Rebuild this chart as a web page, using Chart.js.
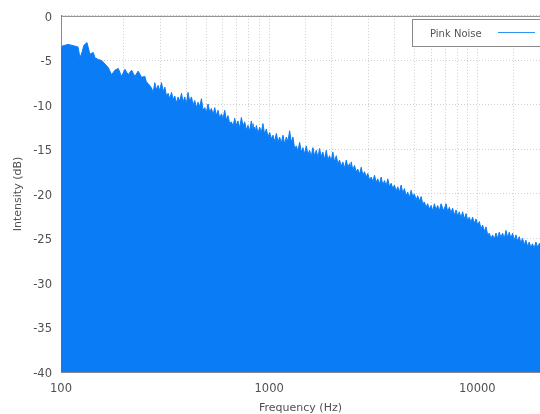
<!DOCTYPE html>
<html>
<head>
<meta charset="utf-8">
<script src="https://cdn.jsdelivr.net/npm/chart.js@4/dist/chart.umd.min.js"></script>
<style>
html,body{margin:0;padding:0;background:#fff;overflow:hidden;}
#wrap{position:relative;width:540px;height:414px;}
</style>
</head>
<body>
<div id="wrap"><canvas id="c" width="540" height="414"></canvas></div>
<script>
const seriesName = "Pink Noise";
const xTitle = "Frequency (Hz)";
const yTitle = "Intensity (dB)";
const xLabelTicks = [100, 1000, 10000];
const yMin = -40, yMax = 0, yStep = 5;
const xMin = 100, xMax = 20000;

const frequencies = [
 100, 101, 104.5, 108, 112.5, 116.7, 120.7, 123.4, 126.1, 128.9, 133.3, 137.7, 142.9, 145.6, 151, 156.7,
 162.6, 168.6, 175, 181.5, 188.3, 195.5, 202.7, 210.2, 218.3, 226.4, 234.8, 243.8, 252.8, 257, 262.2,
 272.2, 277, 282.3, 287, 292.7, 298, 303.9, 310, 315.4, 321, 327, 333, 339.6, 346, 352.1, 358,
 365.2, 372, 379.2, 386, 393.2, 400, 407.8, 415, 423.4, 431, 439.1, 447, 455.4, 464, 472.9, 481,
 490.4, 499, 508.6, 518, 528.1, 538, 547.7, 558, 568, 579, 589.7, 600, 611.6, 623, 634.3, 646,
 658.5, 671, 683, 695, 708.3, 722, 735.4, 749, 762.7, 777, 791, 806, 821.2, 828, 835.9, 844,
 851.7, 860, 867.9, 884, 900.1, 917, 933.5, 951, 969.6, 987, 1005.5, 1024, 1042.8, 1062, 1082.8, 1103,
 1122.9, 1144, 1164.6, 1187, 1209.2, 1231, 1254.1, 1277, 1300.6, 1325, 1350.3, 1375, 1400.4, 1426,
 1452.3, 1480, 1507.8, 1535, 1563.7, 1592, 1621.7, 1652, 1683.6, 1715, 1746.1, 1778, 1810.8, 1845,
 1880, 1915, 1949.7, 1986, 2023, 2061, 2100.4, 2139, 2178.3, 2218, 2259, 2302, 2345.4, 2389,
 2432.4, 2455, 2478.5, 2524, 2570.4, 2618, 2665.6, 2716, 2767.8, 2819, 2870.6, 2923, 2977, 3033,
 3091, 3148, 3206.3, 3265, 3325, 3388, 3452.4, 3516, 3580.6, 3646, 3713.3, 3783, 3855.5, 3926,
 3998.4, 4072, 4146.6, 4225, 4305.5, 4384, 4465.2, 4547, 4630.7, 4718, 4808, 4896, 4986.2, 5078,
 5171, 5269, 5369.2, 5467, 5568.2, 5671, 5774.6, 5884, 5995.7, 6106, 6218, 6332, 6448.5, 6570,
 6695.3, 6883, 7075.3, 7205, 7337.7, 7473, 7609.8, 7754, 7901.1, 8046, 8193.8, 8344, 8497.7, 8658,
 8822.1, 8984, 9149.1, 9317, 9488.3, 9671, 9857.5, 10038, 10223, 10411, 10603, 10803, 11008, 11210,
 11416, 11626, 11839, 12063, 12292, 12518, 12748, 12983, 13221, 13471, 13726, 13978, 14235, 14497,
 14763, 15043, 15328, 15610, 15896, 16189, 16486, 16797, 17116, 17431, 17751, 18077, 18409, 18758,
 19113, 19465, 19823, 20000
];
const intensities = [
 -3.7, -3.4, -3.3, -3.2, -3.3, -3.4, -3.5, -4.7, -4.1, -3.3, -3.0, -4.3, -4.1, -4.7, -4.9, -5.0,
 -5.4, -5.8, -6.6, -6.1, -5.9, -6.8, -6.0, -6.6, -6.1, -6.8, -6.2, -6.9, -6.8, -7.4, -7.6,
 -8.1, -8.6, -7.5, -8.3, -7.8, -8.4, -7.5, -8.5, -8.0, -9.0, -8.7, -9.3, -8.6, -9.4, -9.0, -9.8,
 -9.1, -9.6, -8.7, -9.7, -9.1, -9.9, -8.6, -9.6, -9.1, -10.0, -9.5, -10.3, -9.7, -10.2, -9.3, -10.6,
 -10.3, -10.9, -9.9, -10.8, -10.4, -11.1, -10.3, -11.2, -10.6, -11.5, -11.0, -11.6, -10.6, -11.7, -11.2, -12.1,
 -11.9, -12.4, -11.5, -12.3, -11.8, -12.6, -11.4, -12.4, -11.9, -12.8, -12.3, -12.9, -11.8, -12.6, -12.1, -12.8,
 -12.5, -13.0, -12.3, -13.2, -12.5, -13.1, -12.1, -13.3, -12.7, -13.6, -13.1, -13.8, -13.4, -14.1, -13.2, -14.2,
 -13.6, -14.3, -13.4, -14.4, -13.6, -14.1, -12.9, -14.2, -13.6, -14.9, -14.6, -15.2, -14.2, -15.3,
 -14.8, -15.5, -14.6, -15.6, -15.1, -15.8, -14.8, -15.7, -15.1, -15.9, -14.9, -15.8, -15.3, -16.1,
 -15.1, -16.2, -15.7, -16.3, -15.3, -16.4, -15.7, -16.6, -16.2, -16.9, -16.4, -17.1, -16.2, -17.0,
 -16.6, -17.2, -16.4, -17.3, -16.8, -17.5, -17.2, -17.8, -17.0, -17.9, -17.5, -18.1, -17.7, -18.4,
 -18.1, -18.6, -17.9, -18.7, -18.3, -18.9, -18.1, -19.0, -18.5, -19.1, -18.3, -19.2, -18.8, -19.4,
 -19.0, -19.7, -19.2, -19.8, -19.0, -19.9, -19.4, -20.2, -19.8, -20.4, -19.6, -20.3, -20.0, -20.7,
 -20.2, -20.8, -20.3, -21.1, -20.9, -21.5, -21.1, -21.7, -21.3, -21.9, -21.1, -21.8, -21.3, -21.9,
 -21.1, -21.9, -21.1, -22.0, -21.5, -22.1, -21.6, -22.4, -21.8, -22.5, -22.0, -22.7, -22.0, -22.8,
 -22.2, -23.0, -22.6, -23.2, -22.6, -23.3, -22.8, -23.5, -23.1, -23.9, -23.5, -24.2, -23.7, -24.6,
 -24.4, -25.0, -24.6, -25.1, -24.4, -25.0, -24.3, -24.9, -24.4, -25.0, -24.1, -24.9, -24.3, -25.0,
 -24.4, -25.2, -24.6, -25.3, -24.8, -25.5, -25.0, -25.7, -25.2, -25.9, -25.4, -26.0, -25.6, -26.1,
 -25.4, -26.0, -25.6, -25.5
];

const points = frequencies.map((f, i) => ({x: f, y: intensities[i]}));

const FILL = 'rgb(10,125,246)';
const GRID = '#cfcfcf';
const AXIS = '#8a8a8a';
const TEXT = '#505050';
const FONT = "'DejaVu Sans', sans-serif";

const frame = {
  id: 'frame',
  afterDraw(chart) {
    const {ctx, chartArea: a} = chart;
    ctx.save();
    ctx.strokeStyle = AXIS;
    ctx.lineWidth = 1;
    ctx.beginPath();
    ctx.moveTo(a.left, a.top + 0.5);
    ctx.lineTo(a.right + 5, a.top + 0.5);
    ctx.stroke();
    // legend box
    const bx = 412.5, by = 19.5, bw = 140, bh = 27;
    ctx.fillStyle = '#fff';
    ctx.fillRect(bx, by, bw, bh);
    ctx.strokeStyle = '#888';
    ctx.strokeRect(bx, by, bw, bh);
    ctx.fillStyle = '#555';
    ctx.font = "10px " + FONT;
    ctx.textBaseline = 'middle';
    ctx.textAlign = 'left';
    ctx.fillText(seriesName, 430, 34);
    ctx.strokeStyle = '#2f95f5';
    ctx.beginPath();
    ctx.moveTo(498, 32.5);
    ctx.lineTo(535, 32.5);
    ctx.stroke();
    ctx.restore();
  }
};

new Chart(document.getElementById('c'), {
  type: 'line',
  data: {
    datasets: [{
      label: seriesName,
      data: points,
      fill: 'start',
      backgroundColor: FILL,
      borderColor: FILL,
      borderWidth: 1,
      pointRadius: 0,
      tension: 0
    }]
  },
  options: {
    responsive: false,
    animation: false,
    events: [],
    layout: {padding: {top: 15, right: 0, left: 0, bottom: 0}},
    plugins: {legend: {display: false}, tooltip: {enabled: false}},
    scales: {
      x: {
        type: 'logarithmic',
        min: xMin, max: xMax,
        afterFit(s) { s.height = 42; s.paddingLeft = 0; s.paddingRight = 0; },
        grid: {color: GRID, drawTicks: false, lineWidth: 1},
        border: {color: AXIS, dash: [1, 2]},
        ticks: {
          autoSkip: false, maxRotation: 0, padding: 10,
          color: TEXT, font: {family: FONT, size: 11.5},
          callback: (v) => xLabelTicks.includes(v) ? String(v) : ''
        },
        title: {display: true, text: xTitle, color: TEXT, font: {family: FONT, size: 11}, padding: {top: 0, bottom: -1}}
      },
      y: {
        min: yMin, max: yMax,
        afterFit(s) { s.width = 61; },
        grid: {color: GRID, drawTicks: false, lineWidth: 1},
        border: {color: AXIS, dash: [1, 2]},
        ticks: {stepSize: yStep, padding: 9, labelOffset: 2, color: TEXT, font: {family: FONT, size: 11.5}},
        title: {display: true, text: yTitle, color: TEXT, font: {family: FONT, size: 11}, padding: {top: 12, bottom: 0}}
      }
    }
  },
  plugins: [frame]
});
</script>
</body>
</html>
